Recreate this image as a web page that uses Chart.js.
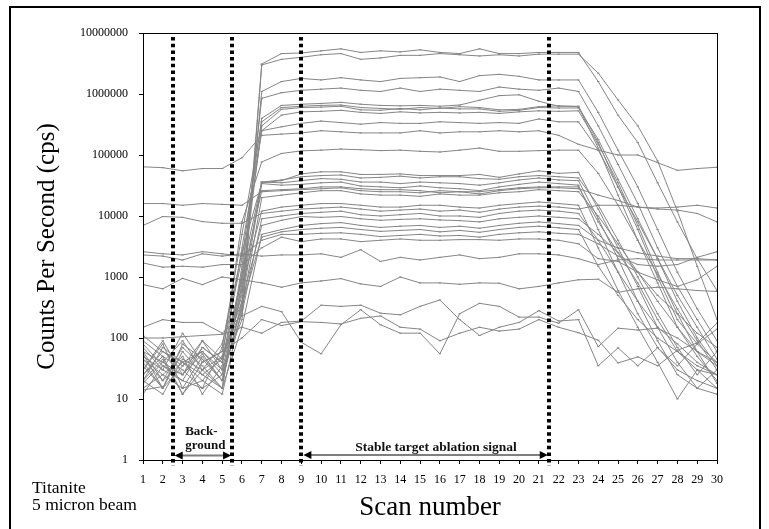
<!DOCTYPE html>
<html><head><meta charset="utf-8">
<script src="https://cdn.jsdelivr.net/npm/chart.js@4.4.0/dist/chart.umd.min.js"></script>
<style>html,body{margin:0;padding:0;background:#fff}#wrap{width:769px;height:529px;position:relative}</style>
</head><body><div id="wrap"><canvas id="c" width="769" height="529"></canvas></div>
<script>
const scans = [1,2,3,4,5,6,7,8,9,10,11,12,13,14,15,16,17,18,19,20,21,22,23,24,25,26,27,28,29,30];
const yTicks = [1,10,100,1000,10000,100000,1000000,10000000];
const boundaries = [2.5, 5.5, 9, 21.5];
const bgRange = [2.5, 5.5];
const stableRange = [9, 21.5];
const bgLabel = ['Back-', 'ground'];
const stableLabel = 'Stable target ablation signal';
const sampleLabel = ['Titanite', '5 micron beam'];
const xTitle = 'Scan number';
const yTitle = 'Counts Per Second (cps)';

const s01 = [60,40,90,30,50,300, 3.1e6,4.6e6,4.7e6,5.1e6,5.5e6,4.8e6,5.1e6,4.9e6,5.3e6,4.8e6,4.6e6,5.5e6,4.6e6,4.6e6,4.8e6,4.8e6,4.8e6, 1.6e6,4.5e5,1.6e5,3.5e4,8.0e3,2.0e3,600];
const s02 = [20,70,40,60,30,200, 3.0e6,3.7e6,4.0e6,4.4e6,4.6e6,3.7e6,3.9e6,4.3e6,4.3e6,4.6e6,4.4e6,4.2e6,4.4e6,4.2e6,4.5e6,4.5e6,4.5e6, 2.2e6,8.0e5,3.0e5,8.0e4,1.2e4,1.5e3,200];
const s03 = [50,30,20,70,40,500, 1.1e6,1.6e6,1.8e6,1.7e6,1.85e6,1.7e6,1.6e6,1.8e6,1.85e6,1.9e6,1.6e6,2.0e6,2.1e6,1.95e6,1.7e6,1.7e6,1.7e6, 5.0e5,1.2e5,3.0e4,6.0e3,1.2e3,300,90];
const s04 = [40,15,60,25,45,1000, 8.5e5,1.05e6,1.15e6,1.2e6,1.25e6,1.15e6,1.1e6,1.25e6,1.1e6,1.2e6,1.15e6,1.1e6,1.3e6,1.2e6,1.15e6,1.25e6,1.1e6, 3.0e5,7.0e4,1.6e4,3.0e3,700,200,60];
const s05 = [25,50,12,40,60,2000, 4.0e5,6.5e5,6.8e5,7.0e5,7.3e5,6.8e5,6.5e5,6.4e5,6.5e5,6.3e5,6.6e5,7.9e5,9.4e5,9.7e5,7.6e5,6.3e5,6.3e5, 1.6e5,3.0e4,6.0e3,1.0e3,200,80,40];
const s06 = [80,35,20,15,70,5000, 3.5e5,6.0e5,6.3e5,6.5e5,6.6e5,6.0e5,5.8e5,5.6e5,6.0e5,5.8e5,6.2e5,6.0e5,5.5e5,5.6e5,6.2e5,6.4e5,6.2e5, 1.3e5,2.2e4,4.0e3,800,150,50,20];
const s07 = [30,90,25,55,20,800, 3.0e5,5.6e5,6.0e5,6.1e5,6.3e5,5.5e5,5.4e5,5.8e5,5.5e5,5.9e5,5.7e5,5.7e5,5.2e5,5.4e5,6.0e5,5.9e5,5.9e5, 1.8e5,4.0e4,9.0e3,2.0e3,400,100,35];
const s08 = [15,25,50,12,35,3000, 2.5e5,4.5e5,5.1e5,5.2e5,5.4e5,5.0e5,4.8e5,5.1e5,4.9e5,5.0e5,4.9e5,5.0e5,4.8e5,5.1e5,5.3e5,5.2e5,5.3e5, 1.5e5,3.5e4,7.0e3,1.2e3,250,60,18];
const s09 = [45,20,70,35,15,1500, 2.5e5,2.9e5,3.3e5,3.6e5,3.4e5,3.2e5,3.4e5,3.3e5,3.3e5,3.5e5,3.4e5,3.3e5,3.4e5,3.3e5,3.9e5,3.5e5,3.5e5, 1.2e5,3.0e4,8.0e3,2.0e3,500,150,45];
const s10 = [6.4e4,6.2e4,5.5e4,6.0e4,6.0e4,9.0e4, 2.1e5,2.2e5,2.3e5,2.5e5,2.4e5,2.3e5,2.3e5,2.3e5,2.5e5,2.3e5,2.4e5,2.4e5,2.5e5,2.4e5,2.5e5,2.1e5,1.5e5, 1.2e5,1.0e5,1.0e5,7.5e4,5.6e4,6.0e4,6.3e4];
const s11 = [110,60,35,90,45,8000, 7.7e4,1.06e5,1.17e5,1.2e5,1.25e5,1.22e5,1.18e5,1.2e5,1.15e5,1.12e5,1.2e5,1.3e5,1.15e5,1.15e5,1.18e5,1.2e5,1.2e5, 5.0e4,1.5e4,4.0e3,1.1e3,300,90,30];
const s12 = [20,45,12,30,80,2500, 3.5e4,3.8e4,4.9e4,5.3e4,5.3e4,4.8e4,4.8e4,4.9e4,4.6e4,4.6e4,4.6e4,4.8e4,4.3e4,4.9e4,5.5e4,5.0e4,5.2e4, 1.3e4,3.0e3,700,150,40,15,12];
const s13 = [60,20,40,25,15,1200, 3.6e4,3.9e4,4.4e4,4.6e4,4.7e4,4.2e4,4.3e4,4.5e4,4.2e4,4.4e4,4.4e4,4.1e4,4.0e4,4.4e4,4.6e4,4.4e4,4.2e4, 1.5e4,4.0e3,1.0e3,250,70,25,60];
const s14 = [90,50,30,15,25,600, 3.6e4,3.5e4,3.8e4,4.1e4,4.0e4,3.6e4,3.6e4,3.4e4,3.6e4,3.5e4,3.4e4,3.2e4,3.5e4,3.9e4,4.2e4,3.9e4,3.8e4, 9.0e3,2.0e3,400,90,25,15,30];
const s15 = [35,15,80,45,20,400, 3.4e4,3.2e4,3.3e4,3.5e4,3.6e4,3.1e4,3.0e4,2.9e4,3.1e4,2.9e4,2.8e4,2.6e4,3.0e4,3.3e4,3.6e4,3.4e4,3.2e4, 6.0e3,1.2e3,250,70,30,20,15];
const s16 = [12,35,25,70,40,900, 2.6e4,2.7e4,2.8e4,3.0e4,3.0e4,2.8e4,2.7e4,2.7e4,2.6e4,2.4e4,2.5e4,2.5e4,2.7e4,2.9e4,3.0e4,3.0e4,3.0e4, 8.0e3,2.5e3,800,200,60,30,25];
const s17 = [25,60,40,20,12,300, 2.0e4,2.2e4,2.4e4,2.6e4,2.6e4,2.3e4,2.2e4,2.2e4,2.1e4,2.3e4,2.2e4,2.2e4,2.4e4,2.5e4,2.7e4,2.6e4,2.5e4, 1.0e4,3.5e3,1.2e3,400,150,60,35];
const s18 = [1.6e4,1.6e4,1.5e4,1.6e4,1.55e4,1.5e4, 2.5e4,2.6e4,2.7e4,2.8e4,2.9e4,2.6e4,2.5e4,2.5e4,2.4e4,2.6e4,2.5e4,2.3e4,2.6e4,2.8e4,2.9e4,2.9e4,2.8e4, 2.2e4,1.8e4,1.4e4,1.35e4,1.4e4,1.5e4,1.35e4];
const s19 = [7.0e3,9.8e3,9.5e3,8.1e3,7.6e3,7.6e3, 1.1e4,1.2e4,1.3e4,1.35e4,1.4e4,1.3e4,1.2e4,1.25e4,1.3e4,1.2e4,1.25e4,1.15e4,1.3e4,1.4e4,1.45e4,1.4e4,1.3e4, 1.5e4,1.5e4,1.4e4,1.3e4,1.25e4,1.1e4,8.0e3];
const s20 = [18,40,25,90,30,700, 1.2e4,1.4e4,1.5e4,1.6e4,1.6e4,1.5e4,1.4e4,1.4e4,1.5e4,1.5e4,1.4e4,1.35e4,1.5e4,1.6e4,1.7e4,1.6e4,1.5e4, 3.0e3,600,150,40,10,30,15];
const s21 = [55,15,35,60,25,250, 9.0e3,1.0e4,1.1e4,1.15e4,1.2e4,1.05e4,1.0e4,1.05e4,1.1e4,1.0e4,1.0e4,9.5e3,1.1e4,1.2e4,1.25e4,1.2e4,1.1e4, 4.0e3,1.2e3,400,150,80,40,25];
const s22 = [30,80,15,20,50,400, 7.0e3,8.5e3,9.8e3,9.5e3,9.8e3,9.0e3,8.5e3,8.8e3,9.0e3,8.6e3,8.4e3,8.0e3,9.0e3,9.5e3,1.0e4,9.5e3,9.0e3, 5.0e3,2.5e3,1.2e3,500,250,120,70];
const s23 = [20,12,45,30,15,150, 5.0e3,6.0e3,7.0e3,7.5e3,7.8e3,7.0e3,6.5e3,6.8e3,7.0e3,6.5e3,6.8e3,6.3e3,7.0e3,7.6e3,8.0e3,7.5e3,7.0e3, 4.0e3,3.0e3,2.5e3,2.2e3,2.0e3,2.0e3,1.9e3];
const s24 = [45,25,15,50,20,350, 4.5e3,5.5e3,6.0e3,6.3e3,6.5e3,6.0e3,5.6e3,5.8e3,6.0e3,5.5e3,5.8e3,5.4e3,6.0e3,6.5e3,6.8e3,6.4e3,6.0e3, 1.5e3,500,200,100,60,35,25];
const s25 = [2.6e3,2.4e3,2.3e3,2.6e3,2.4e3,2.2e3, 4.0e3,5.0e3,5.0e3,5.2e3,5.3e3,5.0e3,4.6e3,4.8e3,5.0e3,4.7e3,4.8e3,4.5e3,5.0e3,5.3e3,5.5e3,5.2e3,5.0e3, 3.5e3,2.2e3,1.6e3,1.5e3,1.6e3,2.1e3,2.6e3];
const s26 = [1.7e3,1.45e3,1.5e3,1.45e3,1.6e3,1.6e3, 3.0e3,4.5e3,3.8e3,4.2e3,4.2e3,3.8e3,4.0e3,4.2e3,4.0e3,4.0e3,4.1e3,4.1e3,4.0e3,4.2e3,4.2e3,4.0e3,3.5e3, 2.0e3,1.8e3,1.2e3,900,700,900,1.5e3];
const s27 = [2.3e3,2.2e3,1.9e3,2.4e3,2.2e3,2.4e3, 2.2e3,2.3e3,2.3e3,2.4e3,2.1e3,2.8e3,1.8e3,2.1e3,1.9e3,2.1e3,2.3e3,2.0e3,2.1e3,2.4e3,2.4e3,2.3e3,2.0e3, 1.6e3,1.9e3,2.0e3,1.9e3,1.9e3,1.9e3,1.9e3];
const s28 = [750,640,950,750,1000,900, 800,680,800,860,940,770,700,1000,800,800,760,800,790,640,700,800,900, 920,560,640,680,640,600,580];
const s29 = [150,200,180,180,120,230, 330,270,85,55,165,290,165,120,120,55,250,370,330,220,220,175,290, 72,145,135,145,100,60,40];
const s30 = [100,100,105,110,115,150, 120,180,190,345,330,345,255,240,330,420,200,110,150,180,280,190,200, 35,69,35,69,35,80,140];
const s31 = [70,30,120,40,60,100, 200,160,185,180,170,210,230,150,140,90,120,150,130,140,200,150,122, 92,39,49,35,63,83,176];
const s32 = [14,16,null,null,null,null, null,null,null,null,null,null,null,null,null,null,null,null,null,null,null,null,null, null,null,null,null,null,null,null];

const allSeries = [s01,s02,s03,s04,s05,s06,s07,s08,s09,s10,s11,s12,s13,s14,s15,s16,s17,s18,s19,s20,s21,s22,s23,s24,s25,s26,s27,s28,s29,s30,s31,s32];

const SERIF = '"Liberation Serif", "Times New Roman", serif';
const GREY = '#868686';

const datasets = allSeries.map((arr, k) => ({
  label: 'Element ' + (k + 1),
  data: scans.map((s, i) => ({x: s, y: arr[i]})),
  borderColor: GREY,
  borderWidth: 1,
  pointStyle: 'line',
  pointRadius: 1.2,
  pointBorderWidth: 1,
  pointBorderColor: GREY,
  pointBackgroundColor: GREY,
  tension: 0,
  spanGaps: false,
  fill: false
}));

const decor = {
  id: 'decor',
  beforeDraw(chart) {
    const ctx = chart.ctx;
    ctx.save();
    ctx.fillStyle = '#fff';
    ctx.fillRect(0, 0, chart.width, chart.height);
    ctx.restore();
  },
  afterDraw(chart) {
    const ctx = chart.ctx;
    const a = chart.chartArea;
    const xs = chart.scales.x;
    ctx.save();
    // plot box
    ctx.strokeStyle = '#000';
    ctx.lineWidth = 1;
    ctx.strokeRect(a.left + 0.5, a.top + 0.5, a.right - a.left, a.bottom - a.top);
    // outer frame
    ctx.lineWidth = 2;
    ctx.strokeRect(10, 7, 750, 540);

    // arrows
    function arrow(v1, v2, y) {
      const x1 = xs.getPixelForValue(v1) + 2, x2 = xs.getPixelForValue(v2) - 1;
      ctx.strokeStyle = '#7f7f7f';
      ctx.lineWidth = 2;
      ctx.beginPath();
      ctx.moveTo(x1 + 6, y); ctx.lineTo(x2 - 6, y); ctx.stroke();
      ctx.fillStyle = '#000';
      ctx.beginPath();
      ctx.moveTo(x1, y); ctx.lineTo(x1 + 8, y - 4); ctx.lineTo(x1 + 8, y + 4); ctx.closePath(); ctx.fill();
      ctx.beginPath();
      ctx.moveTo(x2, y); ctx.lineTo(x2 - 8, y - 4); ctx.lineTo(x2 - 8, y + 4); ctx.closePath(); ctx.fill();
    }
    arrow(bgRange[0], bgRange[1], a.bottom - 4.5);
    arrow(stableRange[0], stableRange[1], a.bottom - 5);

    // dotted boundaries
    ctx.strokeStyle = '#000';
    ctx.lineWidth = 4;
    ctx.setLineDash([3.5, 3.2]);
    boundaries.forEach(v => {
      const x = Math.round(xs.getPixelForValue(v));
      ctx.beginPath();
      ctx.moveTo(x, a.top + 4);
      ctx.lineTo(x, a.bottom + 6);
      ctx.stroke();
    });
    ctx.setLineDash([]);

    // annotation text
    ctx.fillStyle = '#111';
    ctx.font = 'bold 13px ' + SERIF;
    ctx.textAlign = 'center';
    ctx.textBaseline = 'middle';
    const bgMid = (xs.getPixelForValue(bgRange[0]) + xs.getPixelForValue(bgRange[1])) / 2;
    ctx.fillText(bgLabel[0], bgMid - 1, a.bottom - 28);
    ctx.fillText(bgLabel[1], bgMid + 3, a.bottom - 14);
    const stMid = (xs.getPixelForValue(stableRange[0]) + xs.getPixelForValue(stableRange[1])) / 2;
    ctx.font = 'bold 13.5px ' + SERIF;
    ctx.fillText(stableLabel, stMid + 11, a.bottom - 12);

    // sample label
    ctx.font = '17.5px ' + SERIF;
    ctx.textAlign = 'left';
    ctx.textBaseline = 'alphabetic';
    ctx.fillStyle = '#000';
    ctx.fillText(sampleLabel[0], 32, 493);
    ctx.fillText(sampleLabel[1], 32, 510);
    ctx.restore();
  }
};

new Chart(document.getElementById('c'), {
  type: 'line',
  data: { datasets },
  options: {
    responsive: false,
    animation: false,
    devicePixelRatio: 1,
    layout: { padding: { top: 33, right: 52, left: 0, bottom: 0 } },
    plugins: { legend: { display: false }, tooltip: { enabled: false } },
    scales: {
      x: {
        type: 'linear',
        min: 1, max: 30,
        afterFit(s) { s.height = 69; },
        ticks: { stepSize: 1, color: '#000', padding: 9, font: { family: SERIF, size: 12 }, maxRotation: 0, autoSkip: false },
        grid: { drawOnChartArea: false, drawTicks: true, tickLength: 4, color: '#000' },
        border: { color: '#000', width: 1 },
        title: { display: true, text: xTitle, color: '#000', font: { family: SERIF, size: 27 }, padding: { top: 0, bottom: 5 } }
      },
      y: {
        type: 'logarithmic',
        min: 1, max: 10000000,
        afterFit(s) { s.width = 143; },
        afterBuildTicks(s) { s.ticks = yTicks.map(v => ({ value: v })); },
        ticks: { color: '#000', padding: 11, font: { family: SERIF, size: 12 }, callback: v => String(v) },
        grid: { drawOnChartArea: false, drawTicks: true, tickLength: 4, color: '#000' },
        border: { color: '#000', width: 1 },
        title: { display: true, text: yTitle, color: '#000', font: { family: SERIF, size: 25 }, padding: { top: 32, bottom: 0 } }
      }
    }
  },
  plugins: [decor]
});
</script></body></html>
